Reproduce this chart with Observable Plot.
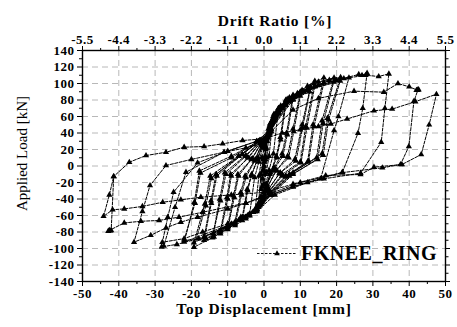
<!DOCTYPE html>
<html><head><meta charset="utf-8">
<script src="https://cdn.jsdelivr.net/npm/d3@7"></script>
<script src="https://cdn.jsdelivr.net/npm/@observablehq/plot@0.6"></script>
<style>body{margin:0;background:#fff}svg{display:block}</style>
</head><body><div id="chart"></div>
<script>
// Tick values and labels
const xTicks = [-50,-40,-30,-20,-10,0,10,20,30,40,50];
const xMinor = [-45,-35,-25,-15,-5,5,15,25,35,45];
const driftLabels = ["-5.5","-4.4","-3.3","-2.2","-1.1","0.0","1.1","2.2","3.3","4.4","5.5"];
const yTicks = [-140,-120,-100,-80,-60,-40,-20,0,20,40,60,80,100,120,140];
const yMinor = [-130,-110,-90,-70,-50,-30,-10,10,30,50,70,90,110,130];
const seriesName = "FKNEE_RING";

// [top displacement mm, applied load kN], in loading order
const cyclesSmall = [
[0,0],[0.3,12],[0.6,22],[0.8,30],[0.4,8],[0,-5],[-0.4,-15],[-0.8,-28],[-0.4,-6],[0,5],
[0.5,20],[1,38],[1.5,48],[0.8,10],[0.2,-10],[-0.5,-25],[-1,-38],[-1.5,-45],[-0.8,-10],[-0.2,8],
[0.5,22],[1.2,42],[1.8,52],[2.5,60],[1.4,12],[0.6,-8],[0,-22],[-0.8,-38],[-1.6,-48],[-2.5,-55],[-1.4,-12],[-0.6,10],
[0.3,25],[1.2,45],[2.5,58],[4,70],[2.6,15],[1.4,-5],[0.5,-22],[-0.5,-38],[-2,-50],[-4,-60],[-2.6,-14],[-1.4,5],[-0.4,22]
];
const cyclesMid = [
[0.6,32],[1.6,50],[3.5,66],[6,80],[4.5,35],[3.4,12],[1.8,-8],[0.6,-25],[-0.4,-40],[-2,-52],[-4,-60],[-6,-66],[-4.5,-30],[-3.5,-12],[-1.8,8],[-0.5,25],
[0.8,30],[2,50],[4,64],[6,74],[4.6,32],[3.5,10],[1.6,-10],[0.4,-28],[-0.6,-42],[-2.4,-52],[-6,-62],[-4.6,-28],[-3.4,-10],[-1.6,10],[-0.4,26],
[0.6,33],[1.8,52],[4,70],[6,79],[8,86],[6.2,40],[5,15],[2.8,-2],[0.8,-22],[-0.2,-38],[-2,-53],[-5,-64],[-8,-72],[-6.2,-35],[-5,-14],[-2.6,6],[-0.6,26],
[0.8,32],[2,52],[5,70],[8,81],[6.4,38],[5.2,12],[2.6,-5],[0.6,-25],[-0.6,-42],[-3,-56],[-8,-68],[-6.4,-32],[-5.2,-12],[-2.4,8],[-0.6,27],
[0.8,35],[2.2,55],[4.6,73],[7,83],[10,90],[8,45],[6.5,12],[3.5,-5],[1,-25],[-0.2,-40],[-2.5,-55],[-6.4,-64],[-10,-77],[-8.2,-38],[-7,-12],[-3.5,8],[-0.8,27],
[1,34],[2.6,56],[6,74],[10,85],[8.2,42],[6.8,10],[3.2,-6],[0.8,-27],[-0.6,-44],[-4,-60],[-10,-73],[-8.4,-36],[-7.2,-10],[-3.2,9],[-0.8,28],
[1,36],[2.75,63],[6.4,81],[9.2,88],[12.8,96],[10.5,50],[8.5,8],[4.5,-8],[1.2,-28],[-0.5,-42],[-3,-56],[-8,-70],[-12,-82],[-10,-40],[-9,-12],[-4.5,10],[-1,28],
[1,35],[3,60],[7.5,80],[12.6,90],[10.6,46],[8.8,6],[4.2,-9],[1,-30],[-0.8,-46],[-4.5,-60],[-12,-78],[-10.2,-38],[-9.2,-10],[-4.2,10],[-1,29],
[1,36],[3,62],[7,82],[10.5,92],[14,103],[11.5,48],[10,5],[5,-10],[1.5,-30],[-1,-46],[-4,-58],[-10,-75],[-14.2,-87],[-12,-42],[-10.5,-10],[-5,12],[-1,30],
[1.2,37],[3.5,63],[8.5,84],[14,97],[11.8,46],[10.2,4],[5,-12],[1.4,-31],[-1.2,-48],[-5,-62],[-14,-82],[-12.2,-40],[-10.8,-8],[-5,13],[-1,30]
];
const cyclesLarge1 = [
[1.2,38],[3.5,64],[8,85],[12,97],[16.5,107],[13.5,50],[12,5],[6,-12],[1.5,-32],[-1.5,-50],[-6.4,-62],[-12,-80],[-16.5,-90],[-14.5,-45],[-13,-12],[-6,14],[-1,31],
[1.4,38],[4,66],[9.5,87],[16.5,101],[13.8,48],[12.3,6],[6,-13],[1.6,-33],[-1.6,-50],[-7,-66],[-16.5,-86],[-14.6,-42],[-13.2,-10],[-6,14],[-1.2,31],
[1.5,40],[4.5,68],[9.2,87],[13.8,100],[19.3,107],[16,55],[14.5,10],[7,-10],[1.8,-33],[-1.8,-50],[-8,-70],[-13.8,-86],[-19.3,-98.4],[-16,-48],[-14.5,-15],[-7,12],[-1.2,30],
[1.5,40],[5,70],[11,90],[19.2,102],[16.3,52],[14.8,8],[7,-12],[1.8,-34],[-2,-52],[-9,-70],[-19.3,-93],[-16.3,-46],[-14.8,-12],[-7,12],[-1.3,30],
[1.5,40],[5,72],[10,89],[15,102],[21.1,107.6],[17.5,58],[16,15],[8,-8],[2,-34],[-2,-52],[-10,-74],[-16,-88],[-22,-90.3],[-19,-45],[-17.5,-8.5],[-9,10],[-1.5,30],
[1.6,41],[5.5,73],[12,92],[21,103],[17.8,56],[16.3,13],[8,-10],[2,-35],[-2.2,-53],[-10,-72],[-22,-92],[-19.2,-44],[-17.8,-6],[-9,12],[-1.5,30],
[1.8,42],[6,76],[12,93],[18,104],[23.4,107],[20.5,60],[19.3,43],[15.6,-15.5],[8,-25],[2,-35],[-2,-54],[-10,-73],[-18,-88],[-24,-95],[-28.2,-98],[-27.6,-97],[-24.5,-50],[-21.5,-7.5],[-11,16.7],[-2,30]
];
const cyclesLarge2 = [
[2,44],[7,78],[14,96],[20,104],[26.1,111],[27,110],[28.4,112.5],[27.2,70],[25.9,39.8],[21.6,-7.5],[12,-20],[3,-35],[-2,-55],[-10,-70],[-16.9,-80],[-22,-88],[-28,-92.4],[-26.5,-62],[-24.9,-31.7],[-18.3,3.9],[-10,18],[-2,30],
[2,45],[8,80],[15,98],[22,106],[28,110],[31.6,108.5],[34.4,111.7],[33.3,70],[32.3,28.9],[26.6,-8.7],[16.5,-15.5],[8,-25],[2,-35],[-5,-45],[-10,-52],[-18.3,-62],[-22.9,-68],[-27,-75],[-31.2,-84],[-35.8,-92.3],[-33.5,-55],[-31.4,-23.6],[-27,0.6],[-20,8],[-11,16.7],[-5,22],[0,28]
];
const cyclesLarge3 = [
[2,42],[8,68],[15,82],[24.8,90.7],[33,89.5],[36.9,100],[40,96],[42.2,92],[42.6,92.5],[42,91.8],[42.4,92.2],[41.3,78.5],[39.9,23.6],[37.6,1.8],[32.6,-2.2],[21.6,-8],[10,-20],[2,-33],[-5,-45],[-16.9,-56],[-23.4,-62],[-28.9,-66],[-33.9,-67],[-38.5,-69],[-42.6,-78],[-42.9,-79],[-42.4,-78.5],[-42.1,-78],[-41.4,-12.7],[-37.1,4.6],[-32.5,12.7],[-27,16.7],[-22,22.8],[-16.5,23.6],[-11.4,26.9],[-5.9,30.9],[0,33],
[5,40],[10,44],[15,48],[18.4,51],[22.9,57],[30.3,67],[35.3,69],[41.7,78],[47.5,87],[45.5,50],[43.3,13.9],[38,1.8],[30.3,-1.4],[26.6,-10.3],[17,-11.5],[8,-22],[0,-32],[-9,-35],[-17.4,-37.8],[-22.9,-41],[-27.9,-43.9],[-33.5,-49],[-38.5,-52],[-41.7,-53],[-44.2,-61],[-42.6,-35],[-41.4,-12.7]
];

const table = [...cyclesSmall, ...cyclesMid, ...cyclesLarge1, ...cyclesLarge2, ...cyclesLarge3]
  .map(([d, f]) => ({d, f}));

const font = "'Liberation Serif', 'Times New Roman', serif";
const gridStyle = {stroke: "#b8b8b8", strokeOpacity: 1, strokeDasharray: "6,4", strokeWidth: 1};

const plot = Plot.plot({
  width: 457, height: 327,
  marginLeft: 82, marginRight: 12, marginTop: 50, marginBottom: 46,
  x: {domain: [-50, 50], label: null},
  y: {domain: [-140, 140], label: null},
  style: {fontFamily: font, fontSize: "13px", fontWeight: "bold", background: "white", color: "black"},
  marks: [
    Plot.gridX(xTicks.slice(1, -1), gridStyle),
    Plot.gridY(yTicks.slice(1, -1), gridStyle),
    Plot.line(table, {x: "d", y: "f", stroke: "black", strokeWidth: 1, strokeDasharray: "3,1.5"}),
    Plot.dot(table, {x: "d", y: "f", symbol: "triangle", r: 2.3, fill: "black", stroke: null}),
    Plot.frame({stroke: "black", strokeWidth: 1.4}),
    Plot.axisX(xTicks, {anchor: "bottom", tickSize: 5, tickPadding: 2, tickFormat: d => String(d), label: null}),
    Plot.axisX(xMinor, {anchor: "bottom", tickSize: 3, tickFormat: () => "", label: null}),
    Plot.axisX(xTicks, {anchor: "top", tickSize: 5, tickPadding: 2, tickFormat: d => driftLabels[xTicks.indexOf(d)], label: null}),
    Plot.axisX(xMinor, {anchor: "top", tickSize: 3, tickFormat: () => "", label: null}),
    Plot.axisY(yTicks, {anchor: "left", tickSize: 5, tickPadding: 3, tickFormat: d => String(d), label: null}),
    Plot.axisY(yMinor, {anchor: "left", tickSize: 3, tickFormat: () => "", label: null}),
    Plot.axisY(yTicks, {anchor: "right", tickSize: 4, tickFormat: () => "", label: null}),
    Plot.axisY(yMinor, {anchor: "right", tickSize: 2.5, tickFormat: () => "", label: null})
  ]
});

document.getElementById("chart").append(plot);
const svg = d3.select(plot);
svg.selectAll("text").attr("letter-spacing", "0.5").attr("font-weight", "bold");

// Axis titles
svg.append("text").text("Drift Ratio [%]")
  .attr("x", 275).attr("y", 26).attr("text-anchor", "middle")
  .attr("font-family", font).attr("font-weight", "bold").attr("font-size", 15.5).attr("letter-spacing", "0.8");
svg.append("text").text("Top Displacement [mm]")
  .attr("x", 264).attr("y", 314).attr("text-anchor", "middle")
  .attr("font-family", font).attr("font-weight", "bold").attr("font-size", 15.5).attr("letter-spacing", "0.8");
svg.append("text").text("Applied Load [kN]")
  .attr("transform", "translate(27,153.5) rotate(-90)").attr("text-anchor", "middle")
  .attr("font-family", font).attr("font-weight", "normal").attr("font-size", 15);

// Legend
const lg = svg.append("g");
lg.append("line").attr("x1", 257).attr("x2", 297).attr("y1", 253.5).attr("y2", 253.5)
  .attr("stroke", "black").attr("stroke-width", 0.9).attr("stroke-dasharray", "2.5,1.5");
lg.append("path").attr("d", d3.symbol(d3.symbolTriangle, 14)()).attr("transform", "translate(277,253.5)").attr("fill", "black");
lg.append("text").text(seriesName).attr("x", 301).attr("y", 260).attr("text-anchor", "start")
  .attr("font-family", font).attr("font-weight", "bold").attr("font-size", 20).attr("letter-spacing", "0.5");
</script>
</body></html>
